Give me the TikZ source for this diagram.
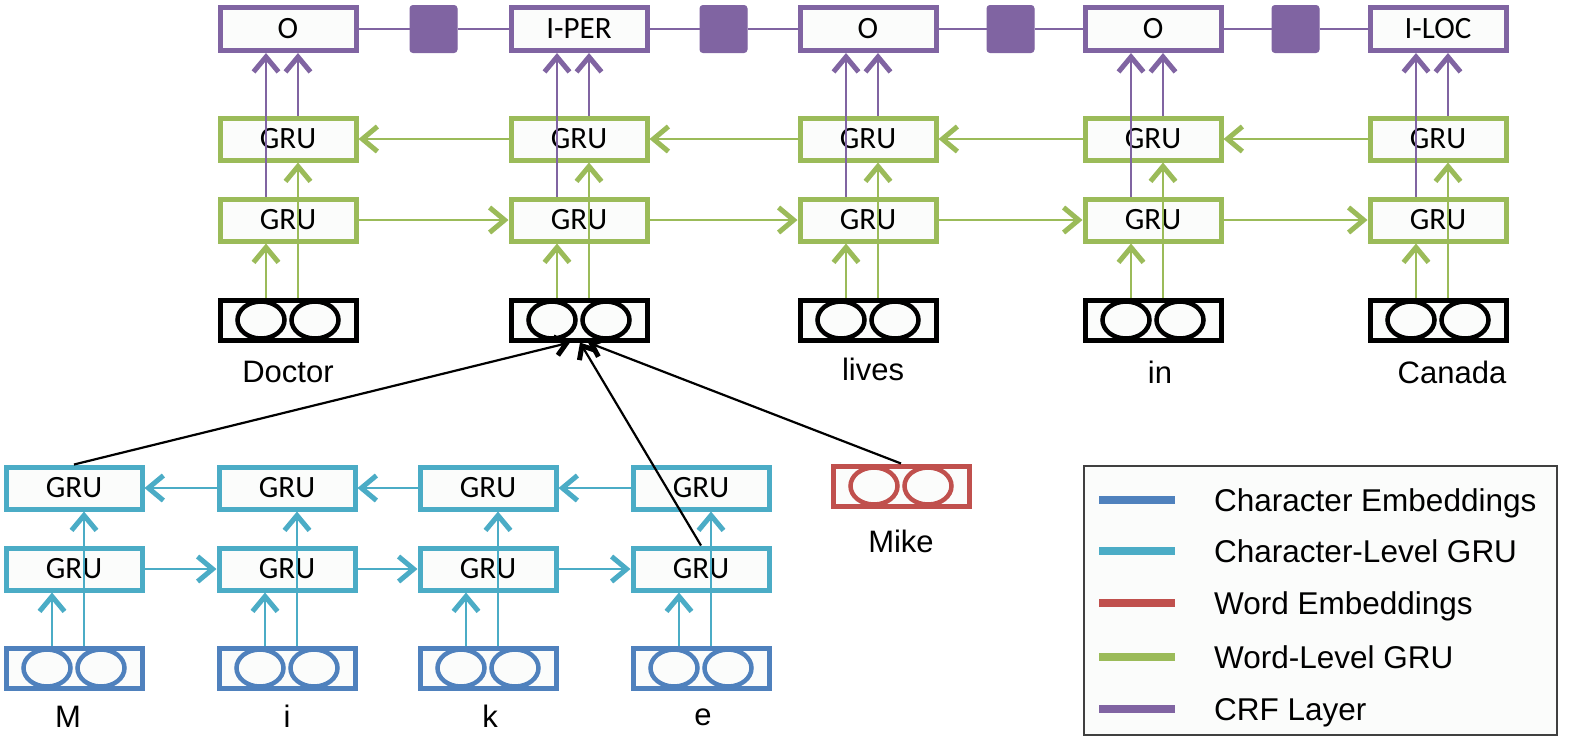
\documentclass[tikz,border=0pt]{standalone}
\usepackage{fontspec}
\setmainfont{Liberation Sans}
\newfontfamily\calib{Carlito}
\usetikzlibrary{arrows.meta,calc}
\definecolor{cpurple}{HTML}{8064A2}
\definecolor{cgreen}{HTML}{9BBB59}
\definecolor{caqua}{HTML}{4BACC6}
\definecolor{cblue}{HTML}{4F81BD}
\definecolor{cred}{HTML}{C0504D}
\definecolor{boxfill}{RGB}{251,252,251}
\newcommand\embnode[4]{%
  \node[embbox, draw=#4] (#1) at (#2,#3) {};
  \draw[line width=4.5pt, draw=#4, fill=boxfill] ($(#1.center)+(-27,0)$) ellipse [x radius=23.5pt, y radius=18.5pt];
  \draw[line width=4.5pt, draw=#4, fill=boxfill] ($(#1.center)+(27,0)$) ellipse [x radius=23.5pt, y radius=18.5pt];
}
\begin{document}
\begin{tikzpicture}[x=1pt,y=-1pt,
  basebox/.style={draw, line width=5pt, fill=boxfill, minimum width=136pt, minimum height=42pt, inner sep=0pt, font=\calib\fontsize{31}{36}\selectfont},
  crf/.style={basebox, draw=cpurple, minimum height=43pt},
  wgru/.style={basebox, draw=cgreen},
  cgru/.style={basebox, draw=caqua},
  embbox/.style={draw, line width=5pt, fill=boxfill, minimum width=136pt, minimum height=40pt, inner sep=0pt},
  fsq/.style={fill=cpurple, draw=cpurple, line width=1pt, minimum size=47pt, inner sep=0pt, rounded corners=3pt},
  lbl/.style={font=\fontsize{31}{36}\selectfont, anchor=base, inner sep=0pt},
  tipp/.tip={Straight Barb[length=15pt, width=25pt, line width=5pt]},
  tipb/.tip={Straight Barb[length=11pt, width=19pt, line width=5pt]},
  parrow/.style={draw=cpurple, line width=2.4pt, -tipp},
  garrow/.style={draw=cgreen, line width=2.4pt, -tipp},
  aarrow/.style={draw=caqua, line width=2.4pt, -tipp},
  barrow/.style={draw=black, line width=2.2pt, -tipb},
  pline/.style={draw=cpurple, line width=2.4pt},
  legline/.style={line width=8pt}
]
\useasboundingbox (0,0) rectangle (1580,740);

% word level columns
\foreach \i/\x/\t in {1/288/O,2/579/I-PER,3/868/O,4/1153/O,5/1438/I-LOC} {
  \node[crf] (crf\i) at (\x,29) {\t};
  \node[wgru] (wu\i) at (\x,139) {GRU};
  \node[wgru] (wl\i) at (\x,220) {GRU};
  \embnode{we\i}{\x}{320}{black}
}

% factor squares and CRF chain
\foreach \i/\j in {1/2,2/3,3/4,4/5} {
  \node[fsq] (sq\i) at ($(crf\i)!0.5!(crf\j)$) {};
  \draw[pline] (crf\i.east) -- (sq\i.west);
  \draw[pline] (sq\i.east) -- (crf\j.west);
}

% horizontal word GRU arrows
\foreach \i/\j in {1/2,2/3,3/4,4/5} {
  \draw[garrow] (wl\i.east) -- (wl\j.west);
  \draw[garrow] (wu\j.west) -- (wu\i.east);
}

% vertical word arrows
\foreach \i in {1,...,5} {
  \draw[garrow] ([xshift=-22pt]we\i.north) -- ([xshift=-22pt]wl\i.south);
  \draw[garrow] ([xshift=10pt]we\i.north) -- ([xshift=10pt]wu\i.south);
  \draw[parrow] ([xshift=-22pt]wl\i.north) -- ([xshift=-22pt]crf\i.south);
  \draw[parrow] ([xshift=10pt]wu\i.north) -- ([xshift=10pt]crf\i.south);
}

% character level columns
\foreach \i/\x in {1/74,2/287,3/488,4/701} {
  \node[cgru] (cu\i) at (\x,488) {GRU};
  \node[cgru] (cl\i) at (\x,569) {GRU};
  \embnode{ce\i}{\x}{668}{cblue}
}
\foreach \i/\j in {1/2,2/3,3/4} {
  \draw[aarrow] (cl\i.east) -- (cl\j.west);
  \draw[aarrow] (cu\j.west) -- (cu\i.east);
}
\foreach \i in {1,...,4} {
  \draw[aarrow] ([xshift=-22pt]ce\i.north) -- ([xshift=-22pt]cl\i.south);
  \draw[aarrow] ([xshift=10pt]ce\i.north) -- ([xshift=10pt]cu\i.south);
}

% Mike word embedding
\embnode{mike}{901}{486}{cred}

% black connectors into word embedding 2
\draw[barrow] (cu1.north) -- ([xshift=-9pt]we2.south);
\draw[barrow] (cl4.north) -- ([xshift=1pt]we2.south);
\draw[barrow] (mike.north) -- ([xshift=9pt]we2.south);

% labels
\node[lbl] (lDoctor) at (288,382) {Doctor};
\node[lbl] (llives) at (873,380) {lives};
\node[lbl] (lin) at (1160,383) {in};
\node[lbl] (lCanada) at (1452,383) {Canada};
\node[lbl] (lMike) at (901,552) {Mike};
\node[lbl] (lM) at (68,727) {M};
\node[lbl] (li) at (287,727) {i};
\node[lbl] (lk) at (490,727) {k};
\node[lbl] (le) at (703,725) {e};

% legend
\node[draw=black!75, line width=2pt, fill=boxfill, minimum width=473pt, minimum height=269pt, inner sep=0pt] (legend) at (1320.5,600.5) {};
\foreach \c/\y/\t [count=\k] in {cblue/500/Character Embeddings, caqua/551/Character-Level GRU, cred/603/Word Embeddings, cgreen/657/Word-Level GRU, cpurple/709/CRF Layer} {
  \draw[legline, draw=\c] (1099,\y) -- (1175,\y);
  \node[font=\fontsize{31.5}{36}\selectfont, anchor=base west, inner sep=0pt] (leg\k) at (1214,\y+11) {\t};
}
\end{tikzpicture}
\end{document}
